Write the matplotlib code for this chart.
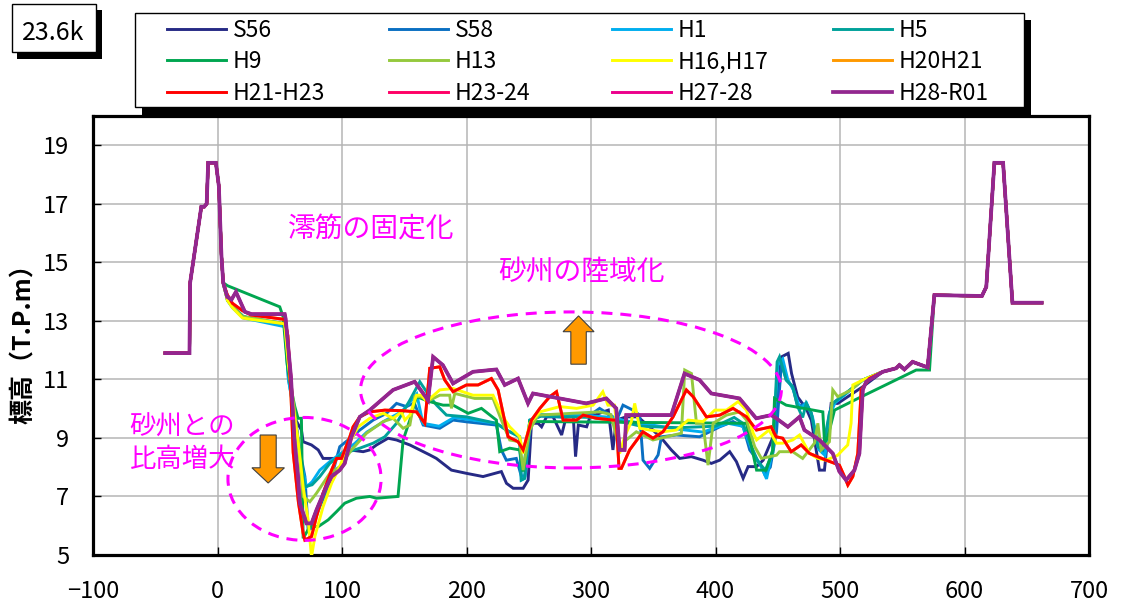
import matplotlib
matplotlib.use("Agg")
import matplotlib.pyplot as plt
from matplotlib.patches import Ellipse, FancyArrow, Rectangle

plt.rcParams['font.family'] = ['Noto Sans CJK JP', 'DejaVu Sans']

# ---- data (x: distance, y: elevation T.P.m) ----
labels = ['S56', 'S58', 'H1', 'H5', 'H9', 'H13', 'H16,H17', 'H20H21',
          'H21-H23', 'H23-24', 'H27-28', 'H28-R01']
colors = ['#262A85', '#0A6FC2', '#00AEEF', '#00A19A', '#00A650', '#95C93D',
          '#FFFF00', '#FF9900', '#FF0000', '#FF0066', '#EC008C', '#92278F']

# left levee, shared by all surveys
left_x = [-42, -22.5, -22, -13, -10.7, -8.7, -7.5, -1.3, 1.1, 3.2, 4.6]
left_y = [11.9, 11.9, 14.3, 16.9, 16.9, 17.0, 18.4, 18.4, 17.6, 15.2, 14.3]
# right bank terrace and levee
rb1_x = [534.3, 545, 547.7, 551.7, 558.3, 570.4]
rb1_y = [11.26, 11.38, 11.49, 11.34, 11.6, 11.41]
rb2_x = [575.8, 614, 617.5, 624, 631, 638.5, 662]
rb2_y = [13.88, 13.85, 14.16, 18.4, 18.4, 13.62, 13.62]

s56_x = [8, 12, 20.6, 54, 57, 60, 62.1, 67.4, 68.8, 75.5,
         80.9, 84.8, 95.6, 106.3, 117, 122.3, 127.7, 137, 143.8, 154.5,
         170.5, 175.8, 187.9, 200, 213.3, 228, 232.1, 237.5, 245.5, 249.5,
         252.2, 257.5, 260.3, 264.3, 269.6, 276.4, 280.4, 285.7, 287.6, 289.8,
         296.5, 299.2, 309.9, 313.9, 317.6, 320.3, 328.3, 337.7, 349.8, 357.8,
         364.5, 371.2, 380.6, 390, 396.7, 403.4, 411.4, 416.8, 422.2, 426.2,
         432.9, 438.3, 446.3, 453, 458.4, 461.1, 466, 472.9, 477, 483.5,
         487.5, 492.9, 498.2, 518.3]
s56_y = [13.75, 13.5, 13.14, 12.85, 11.5, 10.1, 9.67, 9.27, 8.87, 8.76,
         8.59, 8.3, 8.3, 8.59, 8.53, 8.59, 8.76, 8.99, 8.93, 8.76,
         8.42, 8.3, 7.9, 7.79, 7.68, 7.85, 7.45, 7.28, 7.28, 7.56,
         9.5, 9.5, 9.38, 9.72, 9.72, 9.1, 9.78, 9.78, 8.36, 9.44,
         9.38, 9.72, 9.89, 9.95, 8.59, 9.61, 9.72, 9.72, 9.27, 8.93,
         8.59, 8.3, 8.36, 8.24, 8.13, 8.24, 8.53, 8.19, 7.62, 8.02,
         8.02, 8.24, 9.04, 11.77, 11.89, 11.2, 10.4, 10.0, 9.6, 7.9,
         7.9, 10.18, 10.18, 10.75]

s58_x = [8, 12, 20.6, 54, 57, 62, 66, 70.2, 72.8, 75.5,
         82.2, 90.2, 98.2, 104.9, 114.3, 125, 135.7, 143.8, 151.8, 158,
         165.2, 178.5, 189.2, 200, 224, 228, 232, 240, 244, 247,
         252, 260, 280, 300, 306.9, 317.6, 320.5, 325.7, 333.7, 339.1,
         341.8, 347.1, 353.9, 356.6, 368.6, 387.2, 403.4, 414.1, 422.2, 427.5,
         435.6, 439.6, 444, 449, 453, 456.8, 462, 466, 472.9, 477,
         482.2, 487, 491.5, 494.2, 518.3]
s58_y = [13.75, 13.5, 13.14, 12.85, 11.0, 9.8, 8.6, 7.68, 5.86, 5.91,
         6.65, 7.45, 8.7, 8.93, 9.27, 9.61, 9.84, 10.18, 10.07, 10.2,
         9.44, 9.33, 9.61, 9.55, 9.44, 8.59, 8.24, 8.3, 7.7, 7.7,
         9.61, 9.75, 9.7, 9.8, 10.01, 9.72, 9.6, 10.12, 9.95, 9.78,
         8.24, 7.96, 8.42, 9.04, 9.1, 9.04, 9.38, 9.56, 9.38, 8.59,
         8.13, 7.75, 8.0, 9.21, 11.6, 10.98, 10.75, 10.07, 10.18, 9.84,
         8.7, 8.5, 9.84, 10.18, 10.98]

h1_x = [8, 12, 20.6, 54, 57, 62, 66, 71.5, 76, 82.2,
        90.2, 100, 110, 120, 135, 148, 160, 165, 178, 190,
        224, 232, 242.7, 244, 246.7, 250.8, 260, 300, 318, 326,
        340, 370, 390, 410, 422, 430, 437, 441, 446, 450,
        454, 458, 463, 468, 473, 478, 483, 488, 492, 496,
        518.3]
h1_y = [13.7, 13.45, 13.1, 12.8, 11.0, 9.7, 8.4, 7.33, 7.5, 7.9,
        8.19, 8.5, 8.8, 9.2, 9.6, 9.9, 10.5, 9.5, 9.4, 9.7,
        9.5, 9.27, 9.04, 7.56, 7.62, 9.61, 9.8, 9.75, 9.7, 9.6,
        9.5, 9.3, 9.2, 9.5, 9.4, 8.5, 8.0, 7.6, 8.6, 11.5,
        11.7, 11.0, 10.6, 10.0, 10.2, 9.7, 8.6, 8.4, 9.8, 10.2,
        10.98]

h5_x = [8, 12, 20.6, 54, 57, 62, 66, 70.2, 76, 82.2,
        90.2, 100, 114.3, 125, 134.4, 143.8, 154.5, 162.5, 170.5, 176,
        183.9, 200, 224, 232, 242.7, 244, 246.7, 250.8, 260, 300,
        320, 340, 370, 400, 415, 422, 428, 434, 440, 446,
        449.5, 451.4, 456.8, 462, 466, 470, 472.9, 477, 482.2, 486,
        491.5, 494.2, 518.3]
h5_y = [13.7, 13.5, 13.15, 12.9, 11.2, 9.8, 8.5, 7.33, 7.4, 7.68,
        8.13, 8.45, 8.65, 8.82, 9.04, 9.5, 10.29, 10.92, 10.41, 10.12,
        9.78, 9.72, 9.5, 9.27, 9.04, 7.56, 7.62, 9.61, 9.75, 9.7,
        9.6, 9.4, 9.35, 9.4, 9.7, 9.5, 8.8, 8.2, 7.9, 8.5,
        11.6, 11.77, 10.98, 10.75, 10.07, 9.7, 10.18, 9.84, 8.7, 8.6,
        9.84, 10.18, 10.98]

h9_x = [8.1, 50, 52.7, 56, 60, 62.1, 64.7, 67.4, 68.8, 74.2,
        80.9, 88.9, 95.6, 102.2, 111.6, 122.3, 127.7, 145, 149.1, 154.5,
        159.8, 170.5, 181.2, 189.2, 201.3, 212, 224, 226.7, 234.7, 242.7,
        245.5, 250.8, 254.8, 424.9, 433, 440.7, 446, 447.4, 456.8, 486.2,
        487.6, 490.2, 495.6, 514.4, 561.2, 571.9]
h9_y = [14.2, 13.48, 13.14, 11.5, 10.5, 10.07, 9.67, 9.67, 5.57, 5.97,
        5.97, 6.2, 6.48, 6.77, 6.94, 7.0, 6.94, 7.0, 8.93, 9.61,
        10.41, 10.24, 10.12, 10.12, 9.84, 10.01, 9.61, 8.53, 8.65, 8.59,
        7.85, 9.56, 9.56, 9.5, 7.9, 7.9, 8.59, 10.35, 10.12, 9.89,
        8.82, 9.04, 9.95, 10.35, 11.32, 11.32]

h13_x = [8, 12, 20, 54, 57, 62, 66, 68.8, 74.2, 79.5,
         90.2, 98.2, 107.6, 119.7, 133.1, 141.1, 149.1, 154.5, 158.5, 162.5,
         170.5, 178.5, 186.5, 187.9, 190.6, 206.6, 221.3, 228, 234.7, 242.7,
         245.5, 250.8, 257.5, 306.9, 316, 323, 328.3, 336.4, 349.8, 360.5,
         372.6, 375.3, 380.7, 384.7, 390, 394, 398.1, 408.8, 419.3, 424.9,
         431.5, 436.9, 449, 451.4, 462, 470, 479.5, 482.2, 484.9, 491.5,
         494.2, 498.2, 509, 518.3]
h13_y = [13.7, 13.5, 13.15, 12.9, 11.5, 9.9, 8.3, 7.0, 6.82, 7.11,
         7.79, 8.02, 8.59, 9.16, 9.56, 9.67, 9.33, 9.44, 10.41, 10.41,
         10.29, 10.46, 10.46, 10.01, 10.52, 10.35, 10.35, 9.61, 8.93, 8.87,
         7.9, 9.27, 9.78, 9.89, 9.8, 8.59, 8.93, 9.21, 8.93, 9.04,
         9.16, 11.32, 11.2, 9.5, 9.5, 8.07, 9.5, 9.78, 9.89, 9.61,
         8.7, 8.3, 8.41, 8.53, 8.53, 8.3, 8.82, 9.5, 8.59, 8.87,
         10.64, 10.41, 10.64, 10.98]

h16_x = [8, 12, 20, 27, 54, 57, 61, 64.7, 68.8, 72.8,
         75.5, 78.2, 84.8, 91.6, 98.2, 104.9, 113, 122.3, 133.1, 141.1,
         147.8, 150.5, 154.5, 159.8, 163.8, 167.9, 178.5, 189.2, 205.2, 221.3,
         229.3, 234.7, 242.7, 245.5, 250.8, 258.9, 274.9, 288.4, 301.7, 309.5,
         313.6, 318.9, 323, 327, 332.4, 335.1, 339.1, 347.1, 357.8, 368.6,
         378, 390, 399.4, 408.8, 418.2, 424.9, 430.3, 433, 438, 443,
         449, 454, 462, 467.5, 475.5, 482.2, 488.9, 498.2, 502.2, 506.2,
         508.9, 510.3, 518.3]
h16_y = [13.7, 13.45, 13.1, 13.05, 12.9, 11.5, 10.0, 8.93, 7.33, 6.2,
         4.94, 5.63, 6.65, 7.45, 8.02, 8.76, 9.38, 9.67, 9.84, 9.67,
         9.89, 9.61, 9.78, 10.46, 10.46, 10.24, 10.64, 10.69, 10.46, 10.46,
         9.72, 9.38, 9.04, 8.47, 9.5, 9.89, 10.07, 10.01, 10.12, 10.58,
         10.12, 10.12, 8.47, 9.04, 9.56, 10.18, 9.33, 9.27, 9.21, 9.27,
         9.61, 9.56, 9.95, 9.95, 10.24, 9.95, 9.16, 8.93, 9.1, 9.27,
         8.82, 8.82, 8.93, 9.1, 8.47, 8.3, 8.24, 8.41, 8.59, 8.76,
         9.5, 10.81, 10.98]

h2123_x = [7.8, 12, 20, 27, 54, 56.5, 59, 60.8, 65, 68.8,
           70.2, 75.5, 79.5, 84.8, 91.6, 95.6, 99.6, 106.3, 108.9, 114.3,
           122.3, 134.4, 149.1, 159.8, 166.5, 170.5, 178.5, 182.5, 189.2, 200,
           209.3, 220, 225.4, 233.4, 241.4, 245.5, 252.2, 258.9, 266.9, 272.3,
           277.6, 288.4, 293.7, 304.5, 317.8, 320.3, 322.5, 324.4, 331, 341.7,
           349.8, 357.8, 365.9, 376.6, 382, 392.7, 403.4, 414.1, 424.9, 432.9,
           444.7, 448.7, 454, 460.8, 468.8, 475.5, 488.9, 499.5, 503.6, 506.3,
           510.3, 514.3, 517, 523.6]
h2123_y = [13.9, 13.6, 13.35, 13.2, 13.05, 12.5, 10.5, 8.5, 6.8, 5.74,
           5.51, 5.63, 6.31, 7.11, 7.9, 8.3, 8.3, 9.04, 9.38, 9.72,
           9.89, 9.95, 9.93, 9.89, 9.5, 11.38, 11.43, 10.98, 10.58, 10.81,
           10.81, 11.03, 10.64, 9.04, 8.87, 8.59, 9.61, 10.01, 10.41, 10.58,
           9.61, 9.61, 9.78, 9.67, 9.61, 9.61, 7.96, 7.96, 8.59, 9.21,
           8.99, 9.21, 9.72, 10.64, 10.41, 9.72, 9.78, 10.01, 9.72, 9.27,
           9.38, 9.04, 8.99, 8.53, 8.76, 8.47, 8.24, 8.07, 7.68, 7.39,
           7.68, 8.47, 10.64, 11.03]

h2801_x = [7.8, 11.3, 14.8, 22, 27.4, 54, 54.7, 59, 61.8, 64.7,
           66.1, 71.5, 75.5, 79.5, 86.2, 91.6, 98.2, 102.2, 107.6, 114.3,
           122.3, 141, 158.4, 169.1, 173.2, 181, 189.2, 205.2, 224, 230.7,
           241.4, 249.4, 253.4, 296.2, 312.3, 320.3, 323, 327, 328.3, 364.5,
           375.1, 387.2, 396.6, 419.3, 432.7, 444.7, 448.8, 458.1, 467.5, 471.4,
           483.5, 494.2, 499.5, 504.9, 511.6, 515.6, 518.3, 521]
h2801_y = [13.82, 13.73, 13.99, 13.31, 13.23, 13.23, 13.08, 11.09, 8.93, 7.68,
           6.77, 6.08, 6.08, 6.54, 7.22, 7.68, 7.9, 8.13, 9.04, 9.72,
           9.95, 10.64, 10.92, 10.29, 11.77, 11.49, 10.86, 11.26, 11.34, 10.81,
           11.03, 10.18, 10.52, 10.18, 10.35, 10.01, 8.59, 8.59, 9.78, 9.78,
           11.2, 10.98, 10.52, 10.35, 9.67, 9.78, 9.67, 9.38, 9.72, 9.27,
           8.93, 8.47, 7.85, 7.56, 7.9, 8.47, 10.64, 10.92]

# H20H21 lies under H21-H23, H23-24 and H27-28 under H28-R01
mids = [(s56_x, s56_y), (s58_x, s58_y), (h1_x, h1_y), (h5_x, h5_y),
        (h9_x, h9_y), (h13_x, h13_y), (h16_x, h16_y), (h2123_x, h2123_y),
        (h2123_x, h2123_y), (h2801_x, h2801_y), (h2801_x, h2801_y),
        (h2801_x, h2801_y)]

W, H = 1121, 606


def fx(px):
    return px / W


def fy(py):
    return 1 - py / H


fig = plt.figure(figsize=(W / 100, H / 100), dpi=100)
ax = fig.add_axes([fx(93), fy(555), fx(996), 439 / H])

handles = []
for i, (mx, my) in enumerate(mids):
    if labels[i] == 'H9':
        xs = left_x + mx + rb2_x
        ys = left_y + my + rb2_y
    else:
        xs = left_x + mx + rb1_x + rb2_x
        ys = left_y + my + rb1_y + rb2_y
    lw = 2.7 if labels[i] == 'H28-R01' else 2.1
    ln, = ax.plot(xs, ys, color=colors[i], lw=lw, label=labels[i],
                  solid_joinstyle='miter', zorder=3 + i * 0.01)
    handles.append(ln)

ax.set_xlim(-100, 700)
ax.set_ylim(5, 20)
ax.set_xticks(range(-100, 701, 100))
ax.set_yticks(range(5, 20, 2))
ax.grid(True, color='#B5B5B5', lw=1.1)
ax.set_axisbelow(True)
ax.tick_params(direction='in', length=6, width=1, labelsize=17)
ax.tick_params(axis='x', pad=18)
ax.tick_params(axis='y', pad=17)
for sp in ax.spines.values():
    sp.set_linewidth(2.3)

# annotations
mag = '#FF00FF'
ax.text(123.7, 16.14, '澪筋の固定化', color=mag, fontsize=20, ha='center', va='center')
ax.text(292.4, 14.67, '砂州の陸域化', color=mag, fontsize=20, ha='center', va='center')
ax.text(-70.5, 9.37, '砂州との', color=mag, fontsize=19, ha='left', va='center')
ax.text(-70.5, 8.27, '比高増大', color=mag, fontsize=19, ha='left', va='center')
ax.add_patch(Ellipse((283.9, 10.64), 338, 5.33, fill=False, ec=mag, lw=2.2,
                     ls=(0, (3.6, 2.6)), zorder=4))
ax.add_patch(Ellipse((69.9, 7.6), 123, 4.2, fill=False, ec=mag, lw=2.2,
                     ls=(0, (3.6, 2.6)), zorder=4))
ax.add_patch(FancyArrow(40.7, 9.10, 0, -1.64, width=12.9, head_width=26.1,
                        head_length=0.52, length_includes_head=True,
                        fc='#FF9900', ec='#404040', lw=0.8, zorder=5))
ax.add_patch(FancyArrow(290, 11.52, 0, 1.65, width=12.4, head_width=24.9,
                        head_length=0.54, length_includes_head=True,
                        fc='#FF9900', ec='#404040', lw=0.8, zorder=5))

fig.text(fx(24), fy(338), '標高（T.P.m）', rotation=90, fontsize=18,
         fontweight='bold', ha='center', va='center')

# legend frame with shadow
fig.add_artist(Rectangle((fx(142), fy(115)), fx(1031 - 142), (115 - 20) / H,
                         transform=fig.transFigure, fc='black', ec='none'))
fig.add_artist(Rectangle((fx(135), fy(107)), fx(1024 - 135), (107 - 13) / H,
                         transform=fig.transFigure, fc='white', ec='black', lw=1))
col_x = [167, 389, 612, 833]
for c in range(4):
    idx = [c, c + 4, c + 8]
    fig.legend([handles[k] for k in idx], [labels[k] for k in idx],
               loc='upper left', bbox_to_anchor=(fx(col_x[c]), fy(19)),
               frameon=False, borderpad=0, borderaxespad=0, fontsize=16.5,
               handlelength=2.57, handletextpad=0.3, labelspacing=0.37)

# section label box
fig.add_artist(Rectangle((fx(17), fy(59)), fx(102 - 17), (59 - 10) / H,
                         transform=fig.transFigure, fc='black', ec='none'))
fig.add_artist(Rectangle((fx(12), fy(52)), fx(96 - 12), (52 - 4) / H,
                         transform=fig.transFigure, fc='white', ec='black', lw=1))
fig.text(fx(53), fy(39.5), '23.6k', fontsize=18, ha='center', va='baseline')

fig.savefig('out.png', dpi=100)
